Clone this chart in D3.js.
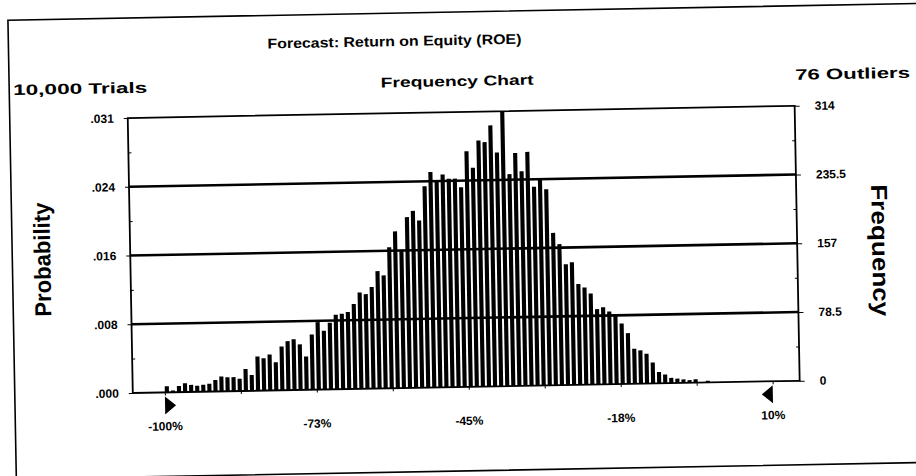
<!DOCTYPE html>
<html>
<head>
<meta charset="utf-8">
<script src="https://cdn.jsdelivr.net/npm/d3@7/dist/d3.min.js"></script>
<style>
  body { margin: 0; background: #fff; }
  text { font-family: "Liberation Sans", Arial, sans-serif; font-weight: bold; fill: #000; }
</style>
</head>
<body>
<div id="chart"></div>
<script>
// ---- data ----
const trials = 10000;
const outliers = 76;
const binStart = -100;   // % return
const binWidth = 1.1;    // % per bin
const frequencies = [
  7, 2, 7, 10, 8, 7, 8, 9, 13, 17,
  16, 16, 14, 25, 18, 39, 37, 41, 32, 50,
  56, 58, 52, 38, 63, 77, 67, 76, 85, 86,
  88, 97, 110, 108, 116, 134, 129, 161, 179, 158,
  195, 202, 191, 230, 246, 235, 243, 238, 238, 228,
  269, 250, 281, 279, 298, 267, 314, 242, 266, 245,
  267, 227, 236, 224, 174, 161, 138, 140, 115, 111,
  104, 86, 88, 83, 80, 69, 58, 40, 38, 34,
  24, 13, 10, 6, 5, 4, 3, 4, 0, 2
];
const freqTicks = [0, 78.5, 157, 235.5, 314];
const freqMinor = [39.25, 117.75, 196.25, 274.75];
const xTickValues = [-100, -72.5, -45, -17.5, 10];
const xTickLabels = ["-100%", "-73%", "-45%", "-18%", "10%"];
const xMinorTicks = [-100, -86.25, -72.5, -58.75, -45, -31.25, -17.5, -3.75, 10];

const width = 916, height = 476;

const svg = d3.select("#chart").append("svg")
  .attr("width", width)
  .attr("height", height);

// the scan is tilted by about a degree
const g = svg.append("g").attr("transform", "rotate(-1.05 458 238)");

const x = d3.scaleLinear().domain([-105.8, 14.9]).range([130, 797]);
const y = d3.scaleLinear().domain([0, 314]).range([387, 112]);

// outer frame
g.append("rect")
  .attr("x", 12).attr("y", 12)
  .attr("width", 915).attr("height", 459)
  .attr("fill", "none").attr("stroke", "#000").attr("stroke-width", 1.6);

// titles
g.append("text").attr("x", 398).attr("y", 45)
  .attr("text-anchor", "middle").attr("font-size", 14)
  .attr("textLength", 254).attr("lengthAdjust", "spacingAndGlyphs")
  .text("Forecast: Return on Equity (ROE)");
g.append("text").attr("x", 16).attr("y", 87)
  .attr("font-size", 15)
  .attr("textLength", 134).attr("lengthAdjust", "spacingAndGlyphs")
  .text(d3.format(",")(trials) + " Trials");
g.append("text").attr("x", 460).attr("y", 86)
  .attr("text-anchor", "middle").attr("font-size", 14)
  .attr("textLength", 153).attr("lengthAdjust", "spacingAndGlyphs")
  .text("Frequency Chart");
g.append("text").attr("x", 913).attr("y", 86)
  .attr("text-anchor", "end").attr("font-size", 15)
  .attr("textLength", 115).attr("lengthAdjust", "spacingAndGlyphs")
  .text(outliers + " Outliers");

// plot box and grid
g.append("rect")
  .attr("x", x.range()[0]).attr("y", y(314))
  .attr("width", x.range()[1] - x.range()[0]).attr("height", y(0) - y(314))
  .attr("fill", "none").attr("stroke", "#000").attr("stroke-width", 1.8);

g.append("g").selectAll("line")
  .data(freqTicks.slice(1, -1))
  .join("line")
  .attr("x1", x.range()[0]).attr("x2", x.range()[1])
  .attr("y1", d => y(d)).attr("y2", d => y(d))
  .attr("stroke", "#000").attr("stroke-width", 2.6);

// bars
const barW = (x(binWidth) - x(0)) * 0.68;
g.append("g").selectAll("rect")
  .data(frequencies)
  .join("rect")
  .attr("x", (d, i) => x(binStart + i * binWidth))
  .attr("y", d => y(d))
  .attr("width", barW)
  .attr("height", d => y(0) - y(d))
  .attr("fill", "#000");

// left axis: probability
const fmtProb = v => d3.format(".3f")(v / trials).replace(/^0/, "");
const leftAxis = g.append("g")
  .attr("transform", `translate(${x.range()[0]},0)`)
  .call(d3.axisLeft(y).tickValues(freqTicks).tickSize(4).tickPadding(10).tickFormat(fmtProb));
leftAxis.select(".domain").remove();
leftAxis.selectAll("text").attr("font-size", 12).attr("font-family", null);

g.append("g")
  .attr("transform", `translate(${x.range()[0]},0)`)
  .call(d3.axisRight(y).tickValues(freqMinor).tickSize(3).tickFormat(""))
  .select(".domain").remove();

// right axis: frequency
const rightAxis = g.append("g")
  .attr("transform", `translate(${x.range()[1]},0)`)
  .call(d3.axisRight(y).tickValues(freqTicks).tickSize(5).tickPadding(15).tickFormat(d3.format("")));
rightAxis.select(".domain").remove();
rightAxis.selectAll("text").attr("font-size", 12).attr("font-family", null);

g.append("g")
  .attr("transform", `translate(${x.range()[1]},0)`)
  .call(d3.axisLeft(y).tickValues(freqMinor).tickSize(3).tickFormat(""))
  .select(".domain").remove();

// bottom axis ticks
g.append("g")
  .attr("transform", `translate(0,${y(0)})`)
  .call(d3.axisBottom(x).tickValues(xMinorTicks).tickSize(3).tickFormat(""))
  .select(".domain").remove();

// bottom labels
g.append("g").selectAll("text")
  .data(xTickValues)
  .join("text")
  .attr("x", d => x(d))
  .attr("y", 425)
  .attr("text-anchor", "middle")
  .attr("font-size", 12)
  .text((d, i) => xTickLabels[i]);

// range grabbers
const lo = x(xTickValues[0]), hi = x(xTickValues[xTickValues.length - 1]);
g.append("path")
  .attr("d", `M${lo},391 L${lo + 11},400 L${lo},409 Z`)
  .attr("fill", "#000");
g.append("path")
  .attr("d", `M${hi},391 L${hi - 11},400 L${hi},409 Z`)
  .attr("fill", "#000");

// axis titles
g.append("text")
  .attr("transform", `translate(50,252) rotate(-90)`)
  .attr("text-anchor", "middle").attr("font-size", 23)
  .attr("textLength", 114).attr("lengthAdjust", "spacingAndGlyphs")
  .text("Probability");
g.append("text")
  .attr("transform", `translate(872,258) rotate(90)`)
  .attr("text-anchor", "middle").attr("font-size", 23)
  .attr("textLength", 132).attr("lengthAdjust", "spacingAndGlyphs")
  .text("Frequency");
</script>
</body>
</html>
